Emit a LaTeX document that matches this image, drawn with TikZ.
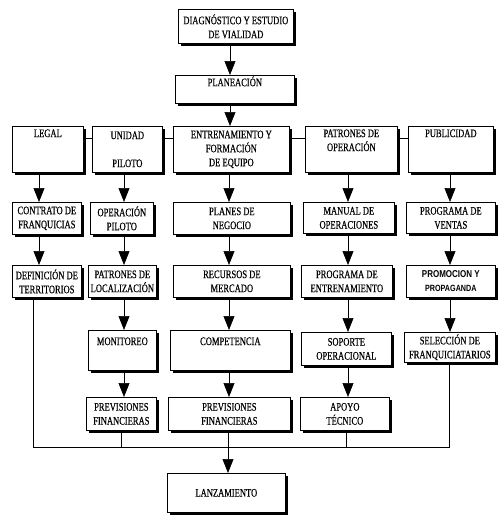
\documentclass[tikz,border=0pt]{standalone}
\usepackage{fontspec}
\setmainfont{Liberation Serif}[FakeStretch=0.74,FakeBold=0.4]
\newfontfamily\promofont{Liberation Sans}[FakeStretch=0.8]
\usetikzlibrary{arrows.meta}
\tikzset{
  box/.style={draw, line width=0.7pt, fill=white, anchor=north west, inner sep=1pt,
    align=center, font=\fontsize{11.5}{14}\selectfont,
    preaction={fill=black, transform canvas={shift={(2.4pt,-2.4pt)}}}},
  arr/.style={line width=0.6pt, -{Triangle[width=11pt,length=14pt]}},
  ln/.style={line width=0.6pt}
}
\newcommand{\bx}[6]{\node[box, minimum width={#4pt-#2pt}, minimum height={#5pt-#3pt}] (#1) at (#2,#3) {#6};}
\begin{document}
\begin{tikzpicture}[x=1pt,y=-1pt]
\useasboundingbox (0,0) rectangle (498,515);
\bx{diag}{178}{9}{293}{43}{DIAGNÓSTICO Y ESTUDIO\\DE VIALIDAD}
\bx{plan}{175}{75}{294}{100}{PLANEACIÓN\\[-2pt]\strut}
\bx{legal}{12}{126}{83}{172}{LEGAL\\\strut\\\strut}
\bx{unidad}{92}{126}{162}{172}{UNIDAD\\\strut\\PILOTO}
\bx{entre}{173}{126}{289}{172}{ENTRENAMIENTO Y\\FORMACIÓN\\DE EQUIPO}
\bx{patop}{305}{126}{397}{172}{PATRONES DE\\OPERACIÓN\\\strut}
\bx{publi}{408}{126}{493}{172}{PUBLICIDAD\\\strut\\\strut}
\bx{contrato}{12}{202}{81}{234}{CONTRATO DE\\FRANQUICIAS}
\bx{oppil}{90}{202}{153}{234}{OPERACIÓN\\PILOTO}
\bx{planes}{173}{202}{290}{234}{PLANES DE\\NEGOCIO}
\bx{manual}{303}{202}{394}{233}{MANUAL DE\\OPERACIONES}
\bx{progv}{406}{202}{495}{233}{PROGRAMA DE\\VENTAS}
\bx{defin}{12}{265}{81}{297}{DEFINICIÓN DE\\TERRITORIOS}
\bx{patloc}{88}{265}{156}{297}{PATRONES DE\\LOCALIZACIÓN}
\bx{recursos}{173}{265}{290}{297}{RECURSOS DE\\MERCADO}
\bx{progent}{301}{265}{392}{297}{PROGRAMA DE\\ENTRENAMIENTO}
\bx{promo}{406}{265}{495}{297}{{\promofont\bfseries\fontsize{10}{14}\selectfont PROMOCION Y}\\{\promofont\bfseries\fontsize{9}{14}\selectfont PROPAGANDA}}
\bx{monit}{88}{330}{156}{370}{MONITOREO\\\strut}
\bx{compet}{170}{330}{290}{370}{COMPETENCIA\\\strut}
\bx{soporte}{301}{332}{391}{365}{SOPORTE\\OPERACIONAL}
\bx{selec}{404}{332}{495}{362}{SELECCIÓN DE\\FRANQUICIATARIOS}
\bx{prev1}{86}{397}{156}{430}{PREVISIONES\\FINANCIERAS}
\bx{prev2}{168}{397}{290}{430}{PREVISIONES\\FINANCIERAS}
\bx{apoyo}{300}{397}{389}{430}{APOYO\\TÉCNICO}
\bx{lanz}{167}{473}{285}{512}{LANZAMIENTO}
% column coordinates
\coordinate (cM) at (230,0);
\coordinate (cL) at (39,0);
\coordinate (cU) at (124,0);
\coordinate (cE) at (229,0);
\coordinate (cP) at (348,0);
\coordinate (cB) at (450,0);
\coordinate (hr) at (0,138);
\coordinate (bl) at (0,447);
\coordinate (xD) at (33,0);
\coordinate (xP1) at (121,0);
\coordinate (xP2) at (228,0);
\coordinate (xA) at (346,0);
\coordinate (xS) at (449,0);
% top arrows
\draw[arr] (cM |- diag.south) -- (cM |- plan.north);
\draw[arr] (cM |- plan.south) -- (cM |- entre.north);
% row1 links
\draw[ln] (legal.east |- hr) -- (unidad.west |- hr);
\draw[ln] (unidad.east |- hr) -- (entre.west |- hr);
\draw[ln] (entre.east |- hr) -- (patop.west |- hr);
\draw[ln] (patop.east |- hr) -- (publi.west |- hr);
% column arrows
\draw[arr] (cL |- legal.south) -- (cL |- contrato.north);
\draw[arr] (cL |- contrato.south) -- (cL |- defin.north);
\draw[arr] (cU |- unidad.south) -- (cU |- oppil.north);
\draw[arr] (cU |- oppil.south) -- (cU |- patloc.north);
\draw[arr] (cU |- patloc.south) -- (cU |- monit.north);
\draw[arr] (cU |- monit.south) -- (cU |- prev1.north);
\draw[arr] (cE |- entre.south) -- (cE |- planes.north);
\draw[arr] (cE |- planes.south) -- (cE |- recursos.north);
\draw[arr] (cE |- recursos.south) -- (cE |- compet.north);
\draw[arr] (cE |- compet.south) -- (cE |- prev2.north);
\draw[arr] (cP |- patop.south) -- (cP |- manual.north);
\draw[arr] (cP |- manual.south) -- (cP |- progent.north);
\draw[arr] (cP |- progent.south) -- (cP |- soporte.north);
\draw[arr] (cP |- soporte.south) -- (cP |- apoyo.north);
\draw[arr] (cB |- publi.south) -- (cB |- progv.north);
\draw[arr] (cB |- progv.south) -- (cB |- promo.north);
\draw[arr] (cB |- promo.south) -- (cB |- selec.north);
% bottom collector
\draw[ln] (xD |- defin.south) -- (xD |- bl) -- (xS |- bl) -- (xS |- selec.south);
\draw[ln] (xP1 |- prev1.south) -- (xP1 |- bl);
\draw[ln] (xA |- apoyo.south) -- (xA |- bl);
\draw[ln] (xP2 |- prev2.south) -- (xP2 |- bl);
\draw[arr] (xP2 |- bl) -- (xP2 |- lanz.north);
\end{tikzpicture}
\end{document}
